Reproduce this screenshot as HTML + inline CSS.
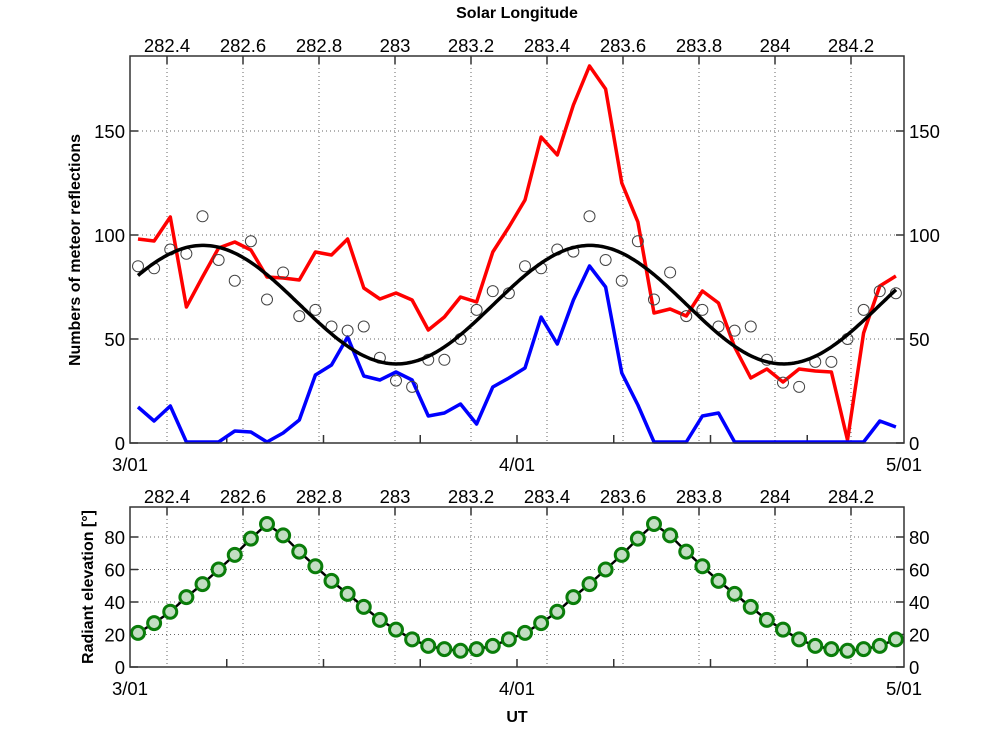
<!DOCTYPE html>
<html><head><meta charset="utf-8"><style>
html,body{margin:0;padding:0;background:#fff;}
svg{display:block;font-family:"Liberation Sans",Arial,sans-serif;}
</style></head><body>
<svg id="s" width="999" height="750" viewBox="0 0 999 750" xmlns="http://www.w3.org/2000/svg"></svg>
<script>
const s=document.getElementById('s');let h='';
const L=130,R=904;
const xi=i=>138+16.125*i;
const T0=56,T1=443,ty=v=>443-v*2.08;
const B0=507,B1=667,by=v=>667-v*1.625;
const slx=k=>167+76*k;
const sl=['282.4','282.6','282.8','283','283.2','283.4','283.6','283.8','284','284.2'];
function panel(y0,y1,yt,yticks,ylabels){
  for(let k=0;k<10;k++)h+=`<line x1="${slx(k)}" y1="${y0}" x2="${slx(k)}" y2="${y1}" stroke="#666" stroke-width="1" stroke-dasharray="1,3"/>`;
  yticks.forEach(v=>{h+=`<line x1="${L}" y1="${yt(v)}" x2="${R}" y2="${yt(v)}" stroke="#666" stroke-width="1" stroke-dasharray="1,3"/>`;});
  for(let k=0;k<10;k++)h+=`<line x1="${slx(k)}" y1="${y0}" x2="${slx(k)}" y2="${y0+8}" stroke="#333" stroke-width="1.5"/><text x="${slx(k)}" y="${y0-4}" font-size="18.5" text-anchor="middle">${sl[k]}</text>`;
  for(let k=1;k<8;k++){const x=L+96.75*k;h+=`<line x1="${x}" y1="${y1}" x2="${x}" y2="${y1-8}" stroke="#333" stroke-width="1.5"/>`;}
  yticks.forEach(v=>{const y=yt(v);h+=`<line x1="${L}" y1="${y}" x2="${L+8}" y2="${y}" stroke="#333" stroke-width="1.5"/><line x1="${R}" y1="${y}" x2="${R-8}" y2="${y}" stroke="#333" stroke-width="1.5"/>`;});
  ylabels.forEach(v=>{const y=yt(v)+7;h+=`<text x="${L-5}" y="${y}" font-size="18.5" text-anchor="end">${v}</text><text x="${R+5}" y="${y}" font-size="18.5">${v}</text>`;});
  [['3/01',L],['4/01',517],['5/01',R]].forEach(d=>{h+=`<text x="${d[1]}" y="${y1+28}" font-size="18.5" text-anchor="middle">${d[0]}</text>`;});
}
panel(T0,T1,ty,[0,50,100,150],[0,50,100,150]);
panel(B0,B1,by,[0,20,40,60,80],[0,20,40,60,80]);
const redPx=[239,241,217,307,277,248,242,250,277,278,280,252,255,239,288,299,293,300,330,317,297,302,252,227,200,137,155,105,66,89,183,222,313,309,316,291,303,347,378,369,382,369,371,372,440,333,286,276];
const bluePx=[407,421,406,442,442,442,431,432,442,433,420,375,365,337,376,380,372,380,416,413,404,424,387,378,368,317,344,300,266,287,373,405,442,442,442,416,413,442,442,442,442,442,442,442,442,442,421,427];
const circ=[85,84,93,91,109,88,78,97,69,82,61,64,56,54,56,41,30,27,40,40,50,64,73,72,85,84,93,92,109,88,78,97,69,82,61,64,56,54,56,40,29,27,39,39,50,64,73,72];
const pl=(a,f)=>a.map((v,i)=>xi(i).toFixed(1)+','+f(v).toFixed(1)).join(' ');
h+=`<polyline points="${pl(redPx,v=>v)}" fill="none" stroke="#f00" stroke-width="3.5" stroke-linejoin="round"/>`;
h+=`<polyline points="${pl(bluePx,v=>v)}" fill="none" stroke="#00f" stroke-width="3.5" stroke-linejoin="round"/>`;
circ.forEach((v,i)=>{h+=`<circle cx="${xi(i)}" cy="${ty(v)}" r="5.5" fill="none" stroke="#444" stroke-width="1"/>`;});
let sp=[];for(let x=138;x<=897;x+=2){sp.push(x+','+ty(66.5+28.5*Math.cos(2*Math.PI*(x-590)/387)).toFixed(1));}
h+=`<polyline points="${sp.join(' ')}" fill="none" stroke="#000" stroke-width="3.5"/>`;
const el=[21,27,34,43,51,60,69,79,88,81,71,62,53,45,37,29,23,17,13,11,10,11,13,17];
const e2=el.concat(el);
h+=`<polyline points="${pl(e2,by)}" fill="none" stroke="#000" stroke-width="2.5"/>`;
e2.forEach((v,i)=>{h+=`<circle cx="${xi(i)}" cy="${by(v)}" r="6.5" fill="#c2dec2" stroke="#0a7d0a" stroke-width="3"/>`;});
h+=`<rect x="${L}" y="${T0}" width="${R-L}" height="${T1-T0}" fill="none" stroke="#333" stroke-width="1.5"/>`;
h+=`<rect x="${L}" y="${B0}" width="${R-L}" height="${B1-B0}" fill="none" stroke="#333" stroke-width="1.5"/>`;
h+=`<text x="517" y="18" font-size="16" font-weight="bold" text-anchor="middle">Solar Longitude</text>`;
h+=`<text x="517" y="722" font-size="16" font-weight="bold" text-anchor="middle">UT</text>`;
h+=`<text transform="translate(80,250) rotate(-90)" font-size="16" font-weight="bold" text-anchor="middle">Numbers of meteor reflections</text>`;
h+=`<text transform="translate(93,587) rotate(-90)" font-size="16" font-weight="bold" text-anchor="middle">Radiant elevation [°]</text>`;
s.innerHTML=h;
</script>
</body></html>
